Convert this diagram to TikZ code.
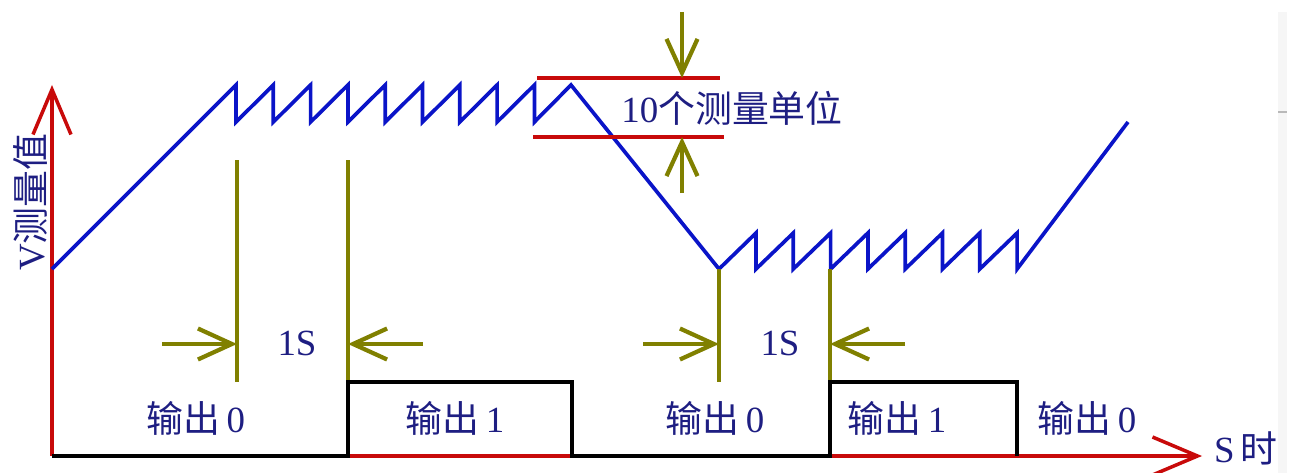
\documentclass[tikz,border=0pt]{standalone}
\usepackage{fontspec}
\setmainfont{Liberation Serif}
\newfontfamily\cjk{Noto Sans CJK SC}
\usepackage{tikz}
\usetikzlibrary{arrows.meta, positioning, calc}
\definecolor{WaveBlue}{RGB}{10,20,200}
\definecolor{AxisRed}{RGB}{200,10,10}
\definecolor{MarkOlive}{RGB}{128,128,0}
\definecolor{TextNavy}{RGB}{30,30,130}
\newcommand{\zh}[1]{{\cjk #1}}

\begin{document}
\begin{tikzpicture}[x=0.02cm, y=-0.02cm,
	axis/.style={AxisRed, line width=2pt, -{Straight Barb[length=9mm, width=7.6mm]}},
	wave/.style={WaveBlue, line width=2.1pt, line join=miter},
	marker/.style={MarkOlive, line width=2.4pt},
	dim/.style={marker, -{Straight Barb[length=6.8mm, width=6.2mm]}},
	unit/.style={AxisRed, line width=2pt},
	outp/.style={black, line width=2pt},
	lbl/.style={text=TextNavy, inner sep=0pt, font=\fontsize{21}{24}\selectfont}]
\useasboundingbox (0,0) rectangle (1294,473);
% screenshot edge
\fill[gray!7] (1278,12) rectangle (1287,473);
\fill[gray!55] (1278,111) rectangle (1287,113);
% axes
\coordinate (O) at (52,456);
\coordinate (Vtop) at (52,85);
\coordinate (Send) at (1202,456);
\draw[axis] (O) -- (Vtop);
\draw[axis] (O) -- (Send);
% measured value
\draw[wave] (52,269) -- (236,85) -- (236,122)
	\foreach \k in {1,...,8} { -- ({236+37.3*\k},85) -- ({236+37.3*\k},122) }
	-- (571,85) -- (719,269)
	\foreach \k in {0,...,7} { -- ({756+37.3*\k},233) -- ({756+37.3*\k},269) }
	-- (1128,122);
% 10 units band
\coordinate (Utop) at (682,78);
\coordinate (Ubot) at (682,137);
\coordinate (Uin) at (682,12);
\coordinate (Uout) at (682,193);
\draw[unit] (537,78) -- (720,78);
\draw[unit] (533,137) -- (724,137);
\draw[dim] (Uin) -- (Utop);
\draw[dim] (Uout) -- (Ubot);
\node[lbl] (unitlbl) at (732,108) {10\zh{个测量单位}};
% 1S markers
\foreach \n/\x/\y in {a/237/160,b/348/160,c/719/269,d/830/269} {
	\coordinate (M\n) at (\x,\y);
	\coordinate (B\n) at (\x,382);
	\draw[marker] (M\n) -- (B\n);
	\coordinate (H\n) at (\x,344);
}
\foreach \n/\x in {a/162,b/423,c/643,d/905}
	\coordinate (T\n) at (\x,344);
\foreach \n in {a,b,c,d}
	\draw[dim] (T\n) -- (H\n);
\node[lbl] (ss1) at (297,343) {1S};
\node[lbl] (ss2) at (780,343) {1S};
% output signal
\draw[outp] (O) -- (348,456) -- (348,382) -- (572,382) -- (572,456)
	-- (830,456) -- (830,382) -- (1017,382) -- (1017,456);
\foreach \i/\x/\v in {1/196/0,2/455/1,3/715/0,4/897/1,5/1087/0}
	\node[lbl] (out\i) at (\x,418) {\zh{输出}\,\v};
% axis labels
\node[lbl, rotate=90] (vlbl) at (30,202) {V\zh{测量值}};
\node[lbl] (slbl) at (1246,448) {S\,\zh{时}};
\end{tikzpicture}
\end{document}
